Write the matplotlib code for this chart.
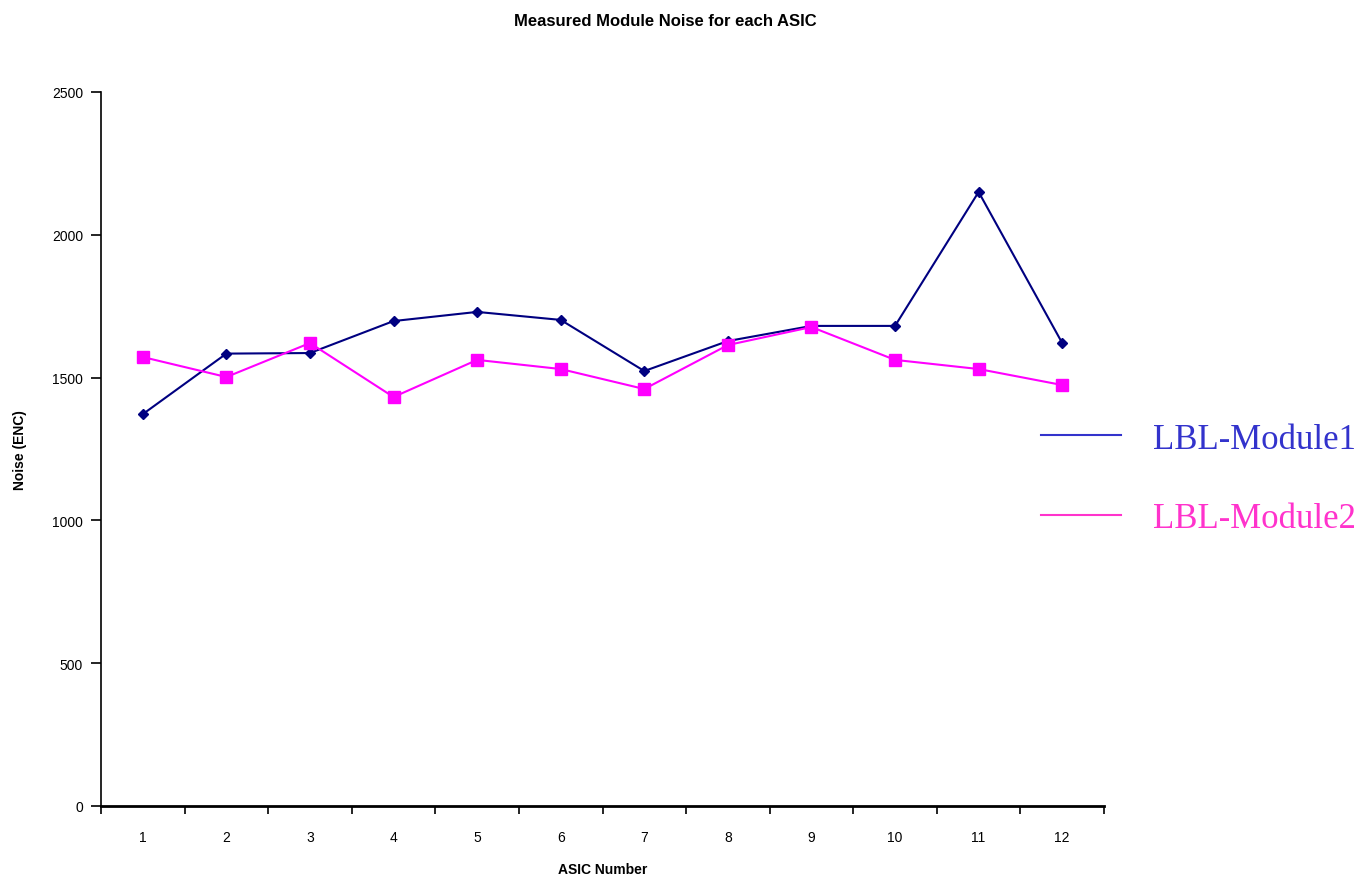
import matplotlib
matplotlib.use("Agg")
import matplotlib.pyplot as plt
from matplotlib.lines import Line2D

# data
asic = [1, 2, 3, 4, 5, 6, 7, 8, 9, 10, 11, 12]
module1 = [1372, 1584, 1586, 1698, 1730, 1702, 1523, 1628, 1681, 1681, 2150, 1621]
module2 = [1572, 1502, 1621, 1432, 1562, 1530, 1460, 1614, 1677, 1562, 1530, 1474]
labels = ["LBL-Module1", "LBL-Module2"]
yticks = [0, 500, 1000, 1500, 2000, 2500]

plt.rcParams["font.family"] = ["Liberation Sans", "DejaVu Sans"]

fig = plt.figure(figsize=(13.72, 8.78), dpi=100)
ax = fig.add_axes([101 / 1372, 71 / 878, 1003 / 1372, 714 / 878])

ax.plot(asic, module1, color="#000080", lw=1.5, marker="D", ms=5.5)
ax.plot(asic, module2, color="#ff00ff", lw=1.5, marker="s", ms=8.5)

ax.set_xlim(0.5, 12.5)
ax.set_ylim(0, 2500)
ax.set_yticks(yticks)
ax.set_xticks(asic)
ax.set_xticks([x + 0.5 for x in [0] + asic], minor=True)
ax.tick_params(axis="x", which="major", length=0, pad=17, labelsize=10)
ax.tick_params(axis="x", which="minor", length=6, width=1.2, direction="out")
ax.tick_params(axis="y", length=7, width=1.2, labelsize=10, pad=6)

for s in ["top", "right"]:
    ax.spines[s].set_visible(False)
ax.spines["left"].set_linewidth(1.2)
ax.spines["bottom"].set_linewidth(2)

ax.set_xlabel("ASIC Number", fontsize=10, fontweight="bold", va="center")
ax.xaxis.set_label_coords(0.5, -63 / 714)
ax.set_ylabel("Noise (ENC)", fontsize=10, fontweight="bold", va="center")
ax.yaxis.set_label_coords(-81 / 1003, 0.5)
fig.text(665 / 1372, 1 - 22 / 878, "Measured Module Noise for each ASIC",
         ha="center", va="center", fontsize=12, fontweight="bold")

handles = [Line2D([], [], color="#3333cc", lw=1.5),
           Line2D([], [], color="#ff33cc", lw=1.5)]
leg = fig.legend(handles, labels, loc="center left",
                 bbox_to_anchor=(1041 / 1372, 1 - 480 / 878),
                 frameon=False, borderpad=0, borderaxespad=0,
                 handlelength=2.3, handletextpad=0.93,
                 labelspacing=1.35, labelcolor=["#3333cc", "#ff33cc"],
                 prop={"family": "Liberation Serif", "size": 25})

fig.savefig("out.png", dpi=100)
